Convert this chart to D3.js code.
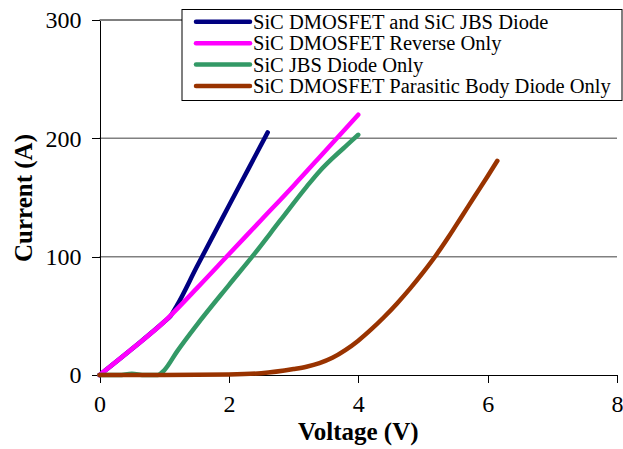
<!DOCTYPE html>
<head>
	<title>SiC DMOSFET reverse conduction</title>
	<meta charset="utf-8">
<style>

body {
  margin: 0;
  background: #fff;
}

svg text {
  font-family: "Liberation Serif", "Times New Roman", serif;
  fill: #000;
}

.axis path,
.axis line {
  fill: none;
  stroke: #000;
  shape-rendering: crispEdges;
}

.axis text {
  font-family: "Liberation Serif", "Times New Roman", serif;
  font-size: 24px;
}

.grid line {
  stroke: #808080;
  stroke-width: 1.5;
}

.series {
  fill: none;
  stroke-width: 4.5;
  stroke-linejoin: round;
  stroke-linecap: round;
}

.title {
  font-size: 25px;
  font-weight: 700;
}

.legend text {
  font-size: 20.5px;
}

</style>
</head>
<body>
<div id="vis"></div>

<script src="https://d3js.org/d3.v7.min.js"></script>
<script>

// Values: [voltage (V), current (A)]
var bothDevices = [[0, 0], [0.5, 22], [1.0, 45], [1.1, 50], [1.2, 59], [1.5, 91], [2.0, 143], [2.3, 174], [2.6, 205]];
var mosfetReverse = [[0, 0], [0.5, 22], [1.0, 45], [1.5, 73], [2.0, 102], [2.5, 131], [3.0, 160], [3.5, 190], [4.0, 220]];
var jbsOnly = [[0, 0], [0.3, 0], [0.5, 1], [0.7, 0], [0.9, 0], [1.0, 4], [1.2, 20], [1.5, 42], [2.0, 76], [2.36, 100], [2.8, 131], [3.2, 159], [3.4, 172], [3.6, 183], [3.8, 193], [4.0, 203]];
var bodyDiode = [[0, 0], [1.0, 0], [2.0, 0.5], [2.5, 1.5], [3.0, 5], [3.2, 7], [3.4, 10], [3.6, 14.5], [3.8, 21], [4.0, 29], [4.2, 38.5], [4.4, 49], [4.6, 60.5], [4.8, 73], [5.0, 86.5], [5.2, 101], [5.4, 117], [5.6, 134], [5.8, 151], [6.0, 168], [6.15, 181]];

var seriesNames = ["SiC DMOSFET and SiC JBS Diode", "SiC DMOSFET Reverse Only", "SiC JBS Diode Only", "SiC DMOSFET Parasitic Body Diode Only"];
var seriesColors = ["#000080", "#ff00ff", "#339966", "#993300"];
var seriesData = [bothDevices, mosfetReverse, jbsOnly, bodyDiode];

var xTicks = [0, 2, 4, 6, 8];
var yTicks = [0, 100, 200, 300];

var margin = {top: 20, right: 6, bottom: 74, left: 99.5};

var x = d3.scaleLinear().domain([0, 8]).range([0, 517.5]);
var y = d3.scaleLinear().domain([0, 300]).range([355, 0]);

var svg = d3.select("#vis").append("svg")
    .attr("width", 623)
    .attr("height", 449)
  .append("g")
    .attr("transform", "translate(" + margin.left + "," + margin.top + ")");

// Horizontal gridlines (top one is darker)
svg.append("g")
    .attr("class", "grid")
  .selectAll("line")
    .data(yTicks.filter(function(d) { return d > 0; }))
  .enter().append("line")
    .attr("x1", 0)
    .attr("x2", function(d) { return d === 300 ? 83 : x(8); })
    .attr("y1", function(d) { return y(d); })
    .attr("y2", function(d) { return y(d); })
    .style("stroke", function(d) { return d === 300 ? "#000" : null; })
    .style("stroke-width", function(d) { return d === 300 ? 1 : null; });

// Axes
var xAxis = d3.axisBottom(x).tickValues(xTicks).tickSize(8).tickSizeOuter(0).tickPadding(12);
var yAxis = d3.axisLeft(y).tickValues(yTicks).tickSize(8).tickSizeOuter(0).tickPadding(10);

svg.append("g")
    .attr("class", "x axis")
    .attr("transform", "translate(0," + y(0) + ")")
    .call(xAxis)
    .attr("font-family", null);

svg.append("g")
    .attr("class", "y axis")
    .call(yAxis)
    .attr("font-family", null);

// Curves
var line = d3.line()
    .curve(d3.curveMonotoneX)
    .x(function(d) { return x(d[0]); })
    .y(function(d) { return y(d[1]); });

svg.selectAll(".series")
    .data(seriesData)
  .enter().append("path")
    .attr("class", "series")
    .attr("d", line)
    .attr("stroke", function(d, i) { return seriesColors[i]; });

// Axis titles
svg.append("text")
    .attr("class", "title")
    .attr("x", x(4))
    .attr("y", 420)
    .attr("text-anchor", "middle")
    .text("Voltage (V)");

svg.append("text")
    .attr("class", "title")
    .attr("transform", "translate(" + (32 - margin.left) + "," + (198 - margin.top) + ") rotate(-90)")
    .attr("text-anchor", "middle")
    .text("Current (A)");

// Legend
var legend = svg.append("g")
    .attr("class", "legend")
    .attr("transform", "translate(" + (182 - margin.left) + "," + (9.5 - margin.top) + ")");

legend.append("rect")
    .attr("width", 440)
    .attr("height", 91)
    .attr("fill", "#fff")
    .attr("stroke", "#000");

var item = legend.selectAll(".item")
    .data(seriesNames)
  .enter().append("g")
    .attr("class", "item")
    .attr("transform", function(d, i) { return "translate(0," + (12.3 + i * 21.4) + ")"; });

item.append("line")
    .attr("x1", 14)
    .attr("x2", 68)
    .attr("stroke", function(d, i) { return seriesColors[i]; })
    .attr("stroke-width", 4.5)
    .attr("stroke-linecap", "round");

item.append("text")
    .attr("x", 71)
    .attr("y", 7)
    .text(function(d) { return d; });

</script>
</body>
